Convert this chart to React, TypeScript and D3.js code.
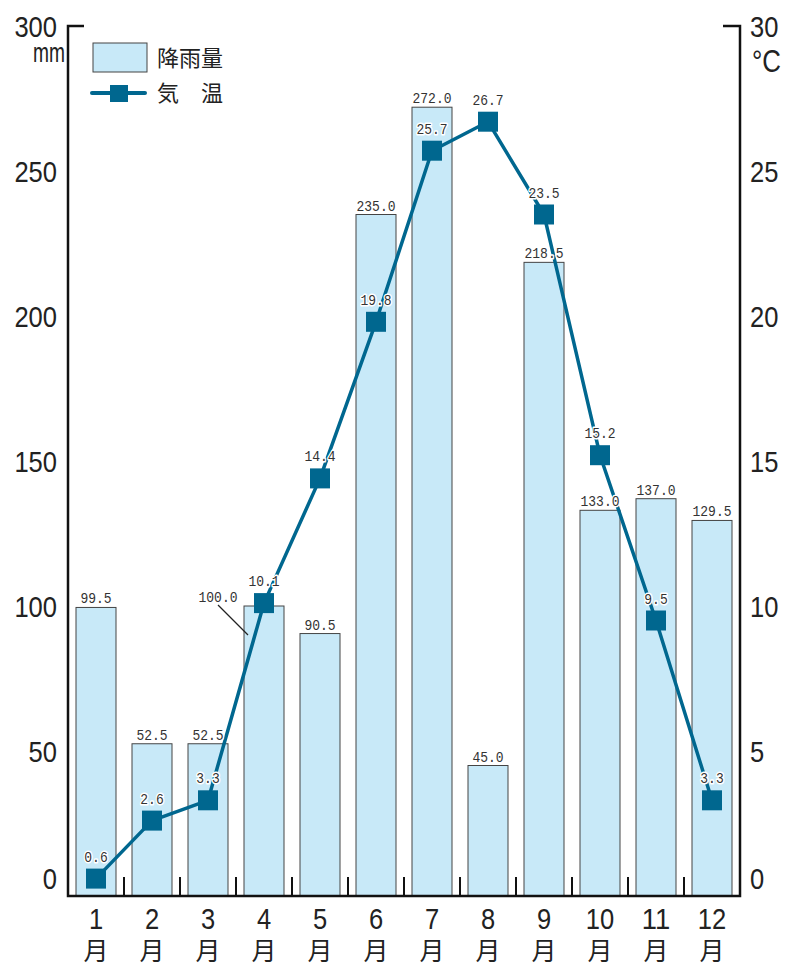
import React from "react";
import * as d3 from "d3";

const months = ["1", "2", "3", "4", "5", "6", "7", "8", "9", "10", "11", "12"];
const precipitation = [99.5, 52.5, 52.5, 100.0, 90.5, 235.0, 272.0, 45.0, 218.5, 133.0, 137.0, 129.5];
const temperature = [0.6, 2.6, 3.3, 10.1, 14.4, 19.8, 25.7, 26.7, 23.5, 15.2, 9.5, 3.3];
const leftTicks = [0, 50, 100, 150, 200, 250, 300];
const rightTicks = [0, 5, 10, 15, 20, 25, 30];

const W = 787;
const H = 965;
const LEFT = 68;
const RIGHT = 740;
const TOP = 26;
const BOTTOM = 896;

const SANS = "'Liberation Sans', Arial, sans-serif";
const MONO = "'Liberation Mono', 'DejaVu Sans Mono', monospace";
const CJK = "'Noto Sans CJK JP', sans-serif";
const LINE = "#00678f";
const BAR = "#c8e9f8";
const INK = "#222";

function BigNum(props: { x: number; y: number; text: string; anchor: "start" | "end" | "middle"; dy?: string }) {
  return (
    <text
      x={props.x}
      y={props.y}
      dy={props.dy}
      textAnchor={props.anchor}
      fontFamily={SANS}
      fontSize={30}
      fill={INK}
      textLength={props.text.length * 14.2}
      lengthAdjust="spacingAndGlyphs"
    >
      {props.text}
    </text>
  );
}

function SmallNum(props: { x: number; y: number; text: string }) {
  return (
    <text
      x={props.x}
      y={props.y}
      textAnchor="middle"
      fontFamily={MONO}
      fontSize={15}
      fill="#333"
      textLength={props.text.length * 7.8}
      lengthAdjust="spacingAndGlyphs"
      stroke="#fff"
      strokeWidth={3}
      paintOrder="stroke"
      strokeLinejoin="round"
    >
      {props.text}
    </text>
  );
}

export default function App() {
  const x = d3.scaleBand<string>().domain(months).range([LEFT, RIGHT]).padding(0);
  const barW = x.bandwidth() * (40 / 56);
  const yL = d3.scaleLinear().domain([0, 300]).range([BOTTOM, TOP]);
  const yR = d3.scaleLinear().domain([0, 30]).range([BOTTOM, TOP]);
  const cx = (m: string) => (x(m) as number) + x.bandwidth() / 2;

  const line = d3
    .line<number>()
    .x((_, i) => cx(months[i]))
    .y((d) => yR(d));

  return (
    <svg
      width={W}
      height={H}
      viewBox={`0 0 ${W} ${H}`}
      style={{ position: "absolute", left: 0, top: 0, background: "#fff" }}
    >
      {/* bars */}
      {precipitation.map((v, i) => (
        <rect
          key={"b" + i}
          x={cx(months[i]) - barW / 2}
          y={yL(v)}
          width={barW}
          height={BOTTOM - yL(v)}
          fill={BAR}
          stroke="#444"
          strokeWidth={1}
        />
      ))}

      {/* boundary ticks */}
      {months.slice(1).map((m) => (
        <line
          key={"t" + m}
          x1={x(m) as number}
          x2={x(m) as number}
          y1={BOTTOM - 19}
          y2={BOTTOM}
          stroke="#111"
          strokeWidth={2}
        />
      ))}

      {/* axes */}
      <path
        d={`M${LEFT + 16},${TOP} H${LEFT} V${BOTTOM} H${RIGHT} V${TOP} H${RIGHT - 17}`}
        fill="none"
        stroke="#111"
        strokeWidth={2.5}
      />

      {/* left tick labels */}
      {leftTicks.map((t) => (
        <BigNum key={"l" + t} x={57} y={t === 0 ? yL(0) - 18 : yL(t)} dy="0.36em" anchor="end" text={String(t)} />
      ))}
      <text
        x={65}
        y={62}
        textAnchor="end"
        fontFamily={SANS}
        fontSize={28}
        fill={INK}
        textLength={32}
        lengthAdjust="spacingAndGlyphs"
      >
        mm
      </text>

      {/* right tick labels */}
      {rightTicks.map((t) => (
        <BigNum key={"r" + t} x={750} y={t === 0 ? yR(0) - 18 : yR(t)} dy="0.36em" anchor="start" text={String(t)} />
      ))}
      <text
        x={752}
        y={72}
        fontFamily={SANS}
        fontSize={31}
        fill={INK}
        textLength={29}
        lengthAdjust="spacingAndGlyphs"
      >
        °C
      </text>

      {/* month labels */}
      {months.map((m) => (
        <g key={"m" + m}>
          <BigNum x={cx(m)} y={929} anchor="middle" text={m} />
          <text x={cx(m)} y={960} textAnchor="middle" fontFamily={CJK} fontSize={25} fill={INK}>
            月
          </text>
        </g>
      ))}

      {/* leader for April bar label */}
      <line x1={218} y1={605} x2={248} y2={635} stroke={INK} strokeWidth={1.2} />

      {/* temperature line */}
      <path d={line(temperature) || ""} fill="none" stroke={LINE} strokeWidth={3.5} strokeLinejoin="round" />
      {temperature.map((v, i) => (
        <rect key={"p" + i} x={cx(months[i]) - 10} y={yR(v) - 10} width={20} height={20} fill={LINE} />
      ))}

      {/* bar value labels */}
      {precipitation.map((v, i) => {
        const special = i === 3;
        const tx = special ? 218 : cx(months[i]);
        const ty = special ? 602 : yL(v) - 4;
        return <SmallNum key={"bv" + i} x={tx} y={ty} text={v.toFixed(1)} />;
      })}

      {/* temperature value labels */}
      {temperature.map((v, i) => (
        <SmallNum key={"tv" + i} x={cx(months[i])} y={yR(v) - 17} text={v.toFixed(1)} />
      ))}

      {/* legend */}
      <rect x={93} y={43} width={54} height={29} fill={BAR} stroke="#444" strokeWidth={1} />
      <text x={157} y={66} fontFamily={CJK} fontSize={22} fill={INK}>
        降雨量
      </text>
      <line x1={92} y1={93} x2={145} y2={93} stroke={LINE} strokeWidth={4} strokeLinecap="round" />
      <rect x={110} y={85} width={18} height={17} fill={LINE} />
      <text x={157} y={101} fontFamily={CJK} fontSize={22} fill={INK}>
        気　温
      </text>
    </svg>
  );
}
